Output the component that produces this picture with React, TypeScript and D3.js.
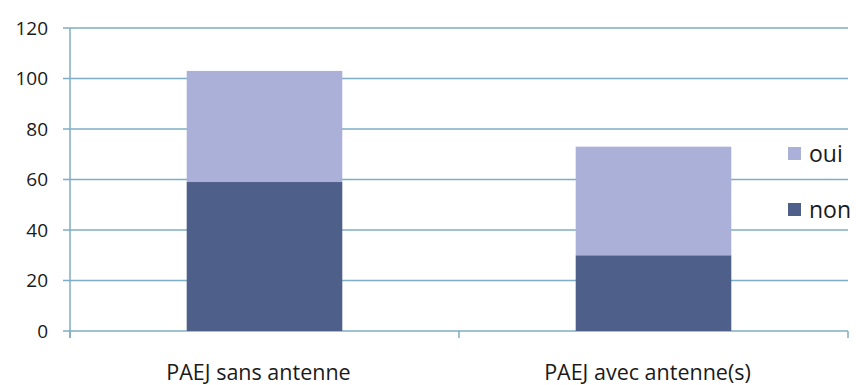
import React, { useEffect, useRef } from 'react';
import * as d3 from 'd3';

// data
const categories = ['PAEJ sans antenne', 'PAEJ avec antenne(s)'];
const non = [59, 30];
const oui = [44, 43];
const yTicks = [0, 20, 40, 60, 80, 100, 120];
const seriesNames = ['oui', 'non'];

export default function App() {
  const ref = useRef<SVGSVGElement>(null);
  const width = 856;
  const height = 385;
  const margin = { top: 28, right: 8, bottom: 54, left: 70 };
  const plotRight = 848;

  useEffect(() => {
    const svg = d3.select(ref.current);
    svg.selectAll('*').remove();

    const axisColor = '#7eadc6';
    const colors: Record<string, string> = { oui: '#aab0d8', non: '#4e5f8a' };
    const font = '"Open Sans", "DejaVu Sans", sans-serif';

    const x = d3.scaleBand<string>()
      .domain(categories)
      .range([margin.left, plotRight])
      .padding(0);
    const y = d3.scaleLinear()
      .domain([0, 120])
      .range([height - margin.bottom, margin.top]);

    // gridlines
    svg.append('g')
      .selectAll('line')
      .data(yTicks)
      .join('line')
      .attr('x1', margin.left - 7)
      .attr('x2', plotRight)
      .attr('y1', d => y(d))
      .attr('y2', d => y(d))
      .attr('stroke', axisColor)
      .attr('stroke-width', 1.5);

    // y axis line
    svg.append('line')
      .attr('x1', margin.left).attr('x2', margin.left)
      .attr('y1', y(120)).attr('y2', y(0) + 7)
      .attr('stroke', axisColor).attr('stroke-width', 1.5);

    // x tick marks between categories
    const boundaries = [margin.left, ...categories.map(c => (x(c) as number) + x.bandwidth())];
    svg.append('g')
      .selectAll('line')
      .data(boundaries)
      .join('line')
      .attr('x1', d => d).attr('x2', d => d)
      .attr('y1', y(0)).attr('y2', y(0) + 7)
      .attr('stroke', axisColor).attr('stroke-width', 1.5);

    // y tick labels
    svg.append('g')
      .selectAll('text')
      .data(yTicks)
      .join('text')
      .attr('x', 48)
      .attr('y', d => y(d))
      .attr('dy', '0.35em')
      .attr('text-anchor', 'end')
      .attr('font-family', font)
      .attr('font-size', 19)
      .attr('fill', '#1a1a1a')
      .text(d => d);

    // stacked bars
    const barW = x.bandwidth() * 0.4;
    const rows = categories.map((c, i) => ({ cat: c, non: non[i], oui: oui[i] }));
    const stacked = d3.stack<any>().keys(['non', 'oui'])(rows);
    svg.append('g')
      .selectAll('g')
      .data(stacked)
      .join('g')
      .attr('fill', d => colors[d.key])
      .selectAll('rect')
      .data(d => d)
      .join('rect')
      .attr('x', d => (x(d.data.cat) as number) + (x.bandwidth() - barW) / 2)
      .attr('width', barW)
      .attr('y', d => y(d[1]))
      .attr('height', d => y(d[0]) - y(d[1]));

    // category labels
    svg.append('g')
      .selectAll('text')
      .data(categories)
      .join('text')
      .attr('x', d => (x(d) as number) + x.bandwidth() / 2 - 6)
      .attr('y', 380)
      .attr('text-anchor', 'middle')
      .attr('font-family', font)
      .attr('font-size', 21.5)
      .attr('fill', '#1a1a1a')
      .text(d => d);

    // legend
    const legend = svg.append('g')
      .selectAll('g')
      .data(seriesNames)
      .join('g')
      .attr('transform', (d, i) => `translate(788,${147 + i * 56})`);
    legend.append('rect')
      .attr('width', 13).attr('height', 13)
      .attr('fill', d => colors[d]);
    legend.append('text')
      .attr('x', 21)
      .attr('y', 6.5)
      .attr('dy', '0.35em')
      .attr('font-family', font)
      .attr('font-size', 23)
      .attr('fill', '#1a1a1a')
      .text(d => d);
  }, []);

  return (
    <svg
      ref={ref}
      width={width}
      height={height}
      style={{ position: 'absolute', left: 0, top: 0, background: '#fff' }}
    />
  );
}
